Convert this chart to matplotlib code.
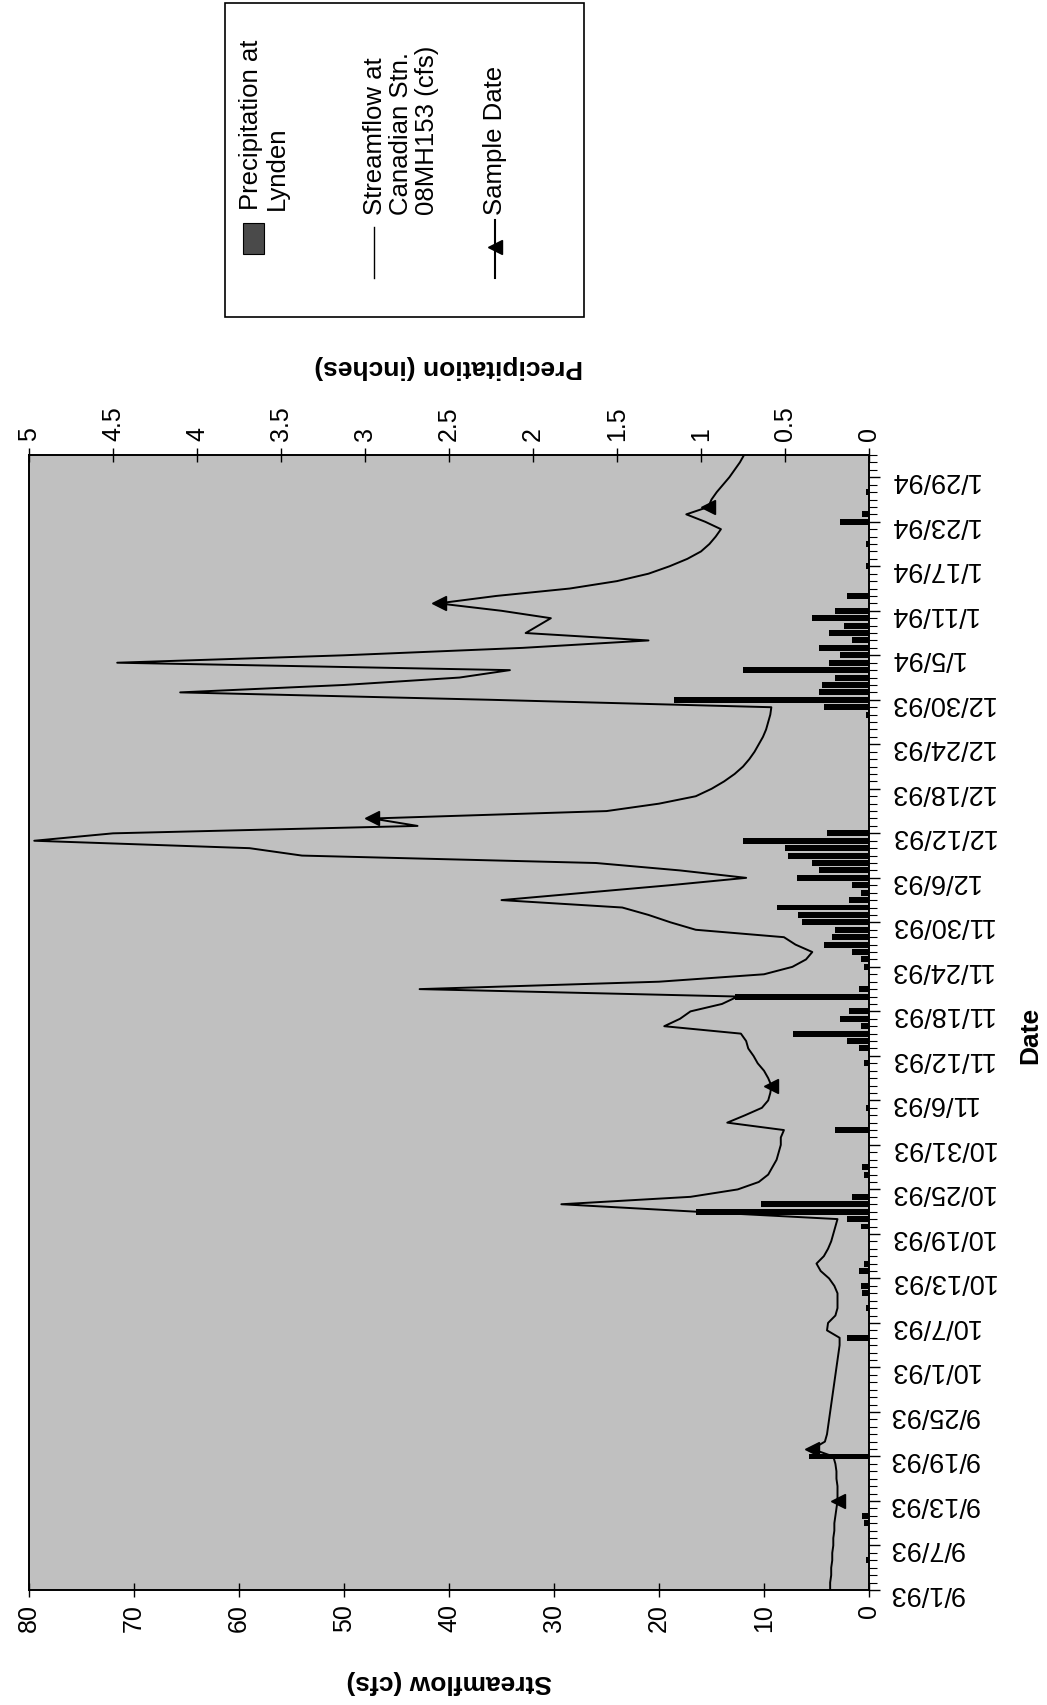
import matplotlib
matplotlib.use("Agg")
import matplotlib.pyplot as plt
from matplotlib.lines import Line2D
from matplotlib.patches import Rectangle
from matplotlib.ticker import MultipleLocator
import numpy as np

plt.rcParams['font.family'] = ['Liberation Sans', 'DejaVu Sans']

# ---------------- data ----------------
# day index: 0 = 9/1/93
days = list(range(0, 154))
streamflow = [
    3.7, 3.7, 3.6, 3.6, 3.5, 3.5, 3.4, 3.4, 3.3, 3.3,      # 0-9
    3.2, 3.1, 3.0, 3.0, 3.0, 3.1, 3.1, 3.2, 3.4, 5.4,      # 10-19
    4.2, 4.0, 3.9, 3.8, 3.7, 3.6, 3.5, 3.4, 3.3, 3.2,      # 20-29
    3.1, 3.0, 2.9, 2.8, 2.8, 4.0, 3.9, 3.2, 3.0, 3.0,      # 30-39
    3.0, 3.3, 3.8, 4.6, 5.0, 4.3, 3.9, 3.6, 3.4, 3.2,      # 40-49
    3.0, 16.5, 29.3, 17.0, 12.5, 10.5, 9.6, 9.2, 8.8, 8.6, # 50-59
    8.4, 8.4, 8.1, 13.5, 11.8, 10.2, 9.6, 9.4, 9.3, 9.6,   # 60-69
    10.0, 10.6, 11.0, 11.5, 11.7, 12.2, 19.5, 18.0, 17.0, 14.0,  # 70-79
    12.5, 42.8, 20.0, 10.0, 7.3, 6.0, 5.4, 7.0, 8.1, 16.5,       # 80-89
    18.9, 21.0, 23.5, 35.0, 27.0, 19.0, 11.7, 18.0, 26.0, 54.0,  # 90-99
    59.0, 79.5, 72.0, 43.0, 47.3, 25.0, 20.0, 16.5, 15.0, 13.8,  # 100-109
    12.8, 12.0, 11.4, 10.9, 10.5, 10.1, 9.8, 9.6, 9.4, 9.3,      # 110-119
    36.0, 65.6, 50.0, 39.0, 34.2, 71.6, 50.0, 33.0, 21.0, 32.7,  # 120-129
    31.5, 30.3, 35.0, 41.0, 35.5, 28.5, 24.0, 21.0, 19.0, 17.3,  # 130-139
    16.0, 15.2, 14.6, 14.1, 15.6, 17.4, 15.3, 15.0, 14.5, 13.9,  # 140-149
    13.3, 12.8, 12.3, 11.9,                                      # 150-153
]

precip_days = [4, 9, 10, 18, 34, 38, 40, 41, 43, 44, 49, 50, 51, 52, 53, 56, 57,
               62, 65, 71, 73, 74, 75, 76, 77, 78, 80, 81, 84, 85, 86, 87, 88,
               89, 90, 91, 92, 93, 94, 95, 96, 97, 98, 99, 100, 101, 102, 118,
               119, 120, 121, 122, 123, 124, 125, 126, 127, 128, 129, 130, 131,
               132, 134, 138, 141, 144, 145, 148]
precip_in = [0.02, 0.03, 0.04, 0.36, 0.13, 0.02, 0.04, 0.05, 0.06, 0.03, 0.05,
             0.13, 1.03, 0.64, 0.10, 0.03, 0.04, 0.20, 0.02, 0.03, 0.06, 0.13,
             0.45, 0.05, 0.17, 0.12, 0.80, 0.06, 0.03, 0.05, 0.10, 0.27, 0.22,
             0.20, 0.40, 0.42, 0.55, 0.12, 0.05, 0.10, 0.43, 0.30, 0.34, 0.48,
             0.50, 0.75, 0.25, 0.02, 0.27, 1.16, 0.30, 0.28, 0.20, 0.75, 0.24,
             0.17, 0.30, 0.10, 0.24, 0.15, 0.34, 0.20, 0.13, 0.02, 0.02, 0.17,
             0.04, 0.02]

sample_days = [12, 19, 68, 104, 133, 146]
sample_cfs = [3.0, 5.4, 9.3, 47.3, 41.0, 15.3]

date_tick_days = list(range(0, 151, 6))
date_tick_labels = ['9/1/93', '9/7/93', '9/13/93', '9/19/93', '9/25/93',
                    '10/1/93', '10/7/93', '10/13/93', '10/19/93', '10/25/93',
                    '10/31/93', '11/6/93', '11/12/93', '11/18/93', '11/24/93',
                    '11/30/93', '12/6/93', '12/12/93', '12/18/93', '12/24/93',
                    '12/30/93', '1/5/94', '1/11/94', '1/17/94', '1/23/94',
                    '1/29/94']
flow_ticks = [0, 10, 20, 30, 40, 50, 60, 70, 80]
precip_ticks = [0, 0.5, 1, 1.5, 2, 2.5, 3, 3.5, 4, 4.5, 5]
precip_tick_labels = ['0', '0.5', '1', '1.5', '2', '2.5', '3', '3.5', '4', '4.5', '5']

# ---------------- layout ----------------
W, H = 1047, 1705
fig = plt.figure(figsize=(W / 100, H / 100), dpi=100)
fig.patch.set_facecolor('white')


def fx(x):
    return x / W


def fy(y):
    return 1 - y / H


L, R, T, B = 29, 869, 455, 1590
ax = fig.add_axes([fx(L), fy(B), (R - L) / W, (B - T) / H])
ax2 = ax.twiny()

BG = '#c0c0c0'
ax.set_zorder(ax2.get_zorder() + 1)
ax.patch.set_visible(False)
ax2.patch.set_visible(True)
ax2.patch.set_facecolor(BG)

# precipitation bars (top axis, inches)
ax2.barh(precip_days, precip_in, height=0.8, color='black', zorder=2)
ax2.set_xlim(5, 0)
ax2.set_xticks(precip_ticks)
ax2.set_xticklabels(precip_tick_labels)
ax2.tick_params(axis='x', direction='inout', length=10, width=1,
                labelsize=18, pad=5, labelrotation=90)

# streamflow line and sample markers (bottom axis, cfs)
ax.plot(streamflow, days, color='black', lw=1.4, zorder=3)
ax.plot(sample_cfs, sample_days, linestyle='none', marker='<', color='black',
        markersize=10, zorder=4)
ax.set_xlim(80, 0)
ax.set_xticks(flow_ticks)
ax.tick_params(axis='x', direction='inout', length=10, width=1,
               labelsize=18, pad=5, labelrotation=90)

ax.set_ylim(0, 153)
ax.yaxis.tick_right()
ax.set_yticks(date_tick_days)
ax.set_yticklabels(date_tick_labels)
ax.yaxis.set_minor_locator(MultipleLocator(1))
ax.tick_params(axis='y', which='major', direction='out', length=8, width=1,
               labelsize=19.5, pad=6, labelrotation=180)
ax.tick_params(axis='y', which='minor', direction='out', length=6, width=0.8)

for a in (ax, ax2):
    for s in a.spines.values():
        s.set_linewidth(1.2)
        s.set_color('black')

# axis titles
fig.text(fx(449), fy(1682), 'Streamflow (cfs)', rotation=180, ha='center',
         va='center', fontsize=19, fontweight='bold')
fig.text(fx(449), fy(367), 'Precipitation (inches)', rotation=180, ha='center',
         va='center', fontsize=19, fontweight='bold')
fig.text(fx(1030), fy(1035), 'Date', rotation=90, ha='center', va='center',
         fontsize=19, fontweight='bold')

# ---------------- legend (rotated, built by hand) ----------------
fig.add_artist(Rectangle((fx(225), fy(317)), (584 - 225) / W, (317 - 3) / H,
                         transform=fig.transFigure, facecolor='white',
                         edgecolor='black', lw=1.2, zorder=5))
fig.add_artist(Rectangle((fx(243), fy(254)), 21 / W, 31 / H,
                         transform=fig.transFigure, facecolor='#4a4a4a',
                         edgecolor='black', lw=0.8, zorder=6))
fig.add_artist(Line2D([fx(374), fx(374)], [fy(278), fy(227)],
                      transform=fig.transFigure, color='black', lw=1.0, zorder=6))
fig.add_artist(Line2D([fx(495), fx(495)], [fy(278), fy(220)],
                      transform=fig.transFigure, color='black', lw=1.5, zorder=6))
fig.add_artist(Line2D([fx(495)], [fy(247)], transform=fig.transFigure,
                      marker='<', markersize=10, color='black', zorder=7))

fig.text(fx(239), fy(210), 'Precipitation at\nLynden', rotation=90,
         rotation_mode='anchor', ha='left', va='top', fontsize=18.5,
         linespacing=1.1, zorder=7)
fig.text(fx(363), fy(215), 'Streamflow at\nCanadian Stn.\n08MH153 (cfs)',
         rotation=90, rotation_mode='anchor', ha='left', va='top', fontsize=18.5,
         linespacing=1.1, zorder=7)
fig.text(fx(483), fy(215), 'Sample Date', rotation=90, rotation_mode='anchor',
         ha='left', va='top', fontsize=18.5, linespacing=1.1, zorder=7)

fig.savefig('out.png', dpi=100)
